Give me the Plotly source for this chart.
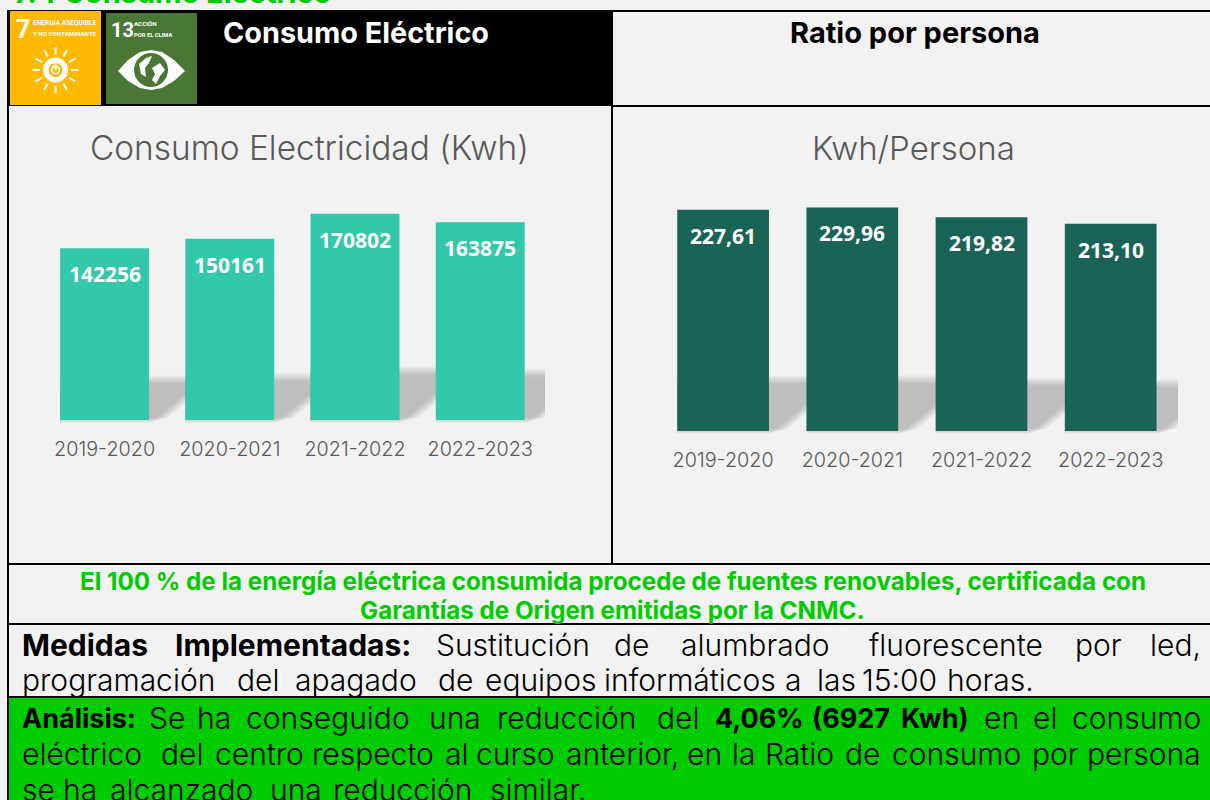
import math
import plotly.graph_objects as go

# ---------- data ----------
courses = ["2019-2020", "2020-2021", "2021-2022", "2022-2023"]
consumo_kwh = [142256, 150161, 170802, 163875]
ratio_kwh_persona = [227.61, 229.96, 219.82, 213.10]
ratio_labels = ["227,61", "229,96", "219,82", "213,10"]

W, H = 1210, 800
FONT = "Inter"
BG = "#F2F2F2"
GREEN = "#00CC00"
GREY = "#595959"
TEAL = "#33C8AA"
DARK = "#1A6357"

def X(p): return p / W
def Y(p): return 1 - p / H

shapes, annots = [], []

def rect(x0, y0, x1, y1, color):
    shapes.append(dict(type="rect", xref="paper", yref="paper", x0=X(x0), x1=X(x1), y0=Y(y1), y1=Y(y0),
                       fillcolor=color, line=dict(width=0), layer="below"))

def path(points, color, opacity=1.0):
    d = "M " + " L ".join(f"{X(a):.5f},{Y(b):.5f}" for a, b in points) + " Z"
    shapes.append(dict(type="path", xref="paper", yref="paper", path=d, fillcolor=color, opacity=opacity,
                       line=dict(width=0), layer="below"))

def seg(x0, y0, x1, y1, color, width):
    shapes.append(dict(type="line", xref="paper", yref="paper", x0=X(x0), x1=X(x1), y0=Y(y0), y1=Y(y1),
                       line=dict(color=color, width=width), layer="below"))

def circle(cx, cy, r, color):
    shapes.append(dict(type="circle", xref="paper", yref="paper", x0=X(cx - r), x1=X(cx + r), y0=Y(cy + r), y1=Y(cy - r),
                       fillcolor=color, line=dict(width=0), layer="below"))

def text(x, y, s, size, color, bold=False, anchor="left", font=FONT, weight=None, vanchor="middle"):
    annots.append(dict(xref="paper", yref="paper", x=X(x), y=Y(y), text=s, showarrow=False, xanchor=anchor,
                       yanchor=vanchor, borderpad=0, borderwidth=0, align=anchor if anchor != "middle" else "center",
                       font=dict(family=font, size=size, color=color, weight=weight or (700 if bold else 400))))

# ---------- table ----------
rect(8, 697, 1210, 800, GREEN)
rect(8, 10, 613, 106, "#000000")
seg(8, 10, 8, 800, "#000000", 2)
seg(613, 11, 1210, 11, "#000000", 2)
seg(612, 106, 1210, 106, "#000000", 2)
seg(612, 106, 612, 564, "#000000", 2)
seg(8, 564, 1210, 564, "#000000", 2)
seg(8, 624, 1210, 624, "#000000", 2)
seg(8, 697, 1210, 697, "#000000", 2)

# ---------- SDG icons ----------
rect(10, 11, 101, 105, "#FFB900")
rect(106, 13, 197, 104, "#4A7735")
for i in range(12):
    a = math.radians(i * 30)
    seg(55.5 + 15.5 * math.cos(a), 70 + 15.5 * math.sin(a), 55.5 + 23 * math.cos(a), 70 + 23 * math.sin(a), "white", 2)
circle(55.5, 70, 12.5, "white")
circle(55.5, 70, 7, "#FFB900")
circle(55.5, 70, 4.6, "white")
circle(55.5, 70, 3, "#FFB900")
seg(55.5, 63, 55.5, 70, "white", 2)
path([(118, 71), (128, 60), (140, 52), (151, 50), (162, 52), (174, 60), (185, 71),
      (174, 81), (162, 88), (151, 90), (140, 88), (128, 81)], "white")
circle(151, 70, 17, "#4A7735")
path([(139, 64), (146, 58), (152, 56), (149, 63), (145, 68), (146, 77), (141, 74)], "white")
path([(152, 68), (160, 63), (165, 70), (160, 76), (156, 84), (152, 80), (155, 74)], "white")

NARROW = "Roboto"
text(16, 29, "7", 25, "white", True, font=NARROW)
text(33, 23, "ENERGIA ASEQUIBLE", 6.6, "white", True, font=NARROW)
text(33, 34, "Y NO CONTAMINANTE", 6.2, "white", True, font=NARROW)
text(111, 30, "13", 20, "white", True, font=NARROW)
text(134, 24, "ACCIÓN", 6.2, "white", True, font=NARROW)
text(134, 35, "POR EL CLIMA", 5.8, "white", True, font=NARROW)

# ---------- shadows ----------
def shadow(x0, x1, base, top, clip):
    layers = 12
    for k in range(layers):
        t = top + k * 0.8
        b = base + 3 - k * 0.5
        xe = x1 + k * 1.8
        run = b - t
        pts = [(x0, b), (xe, b)]
        if xe + run * 1.2 > clip:
            pts += [(clip, b - (clip - xe) / 1.2), (clip, t)]
        else:
            pts += [(xe + run * 1.2, t)]
        pts.append((x0, t))
        path(pts, "#808080", 0.05)

def shadows(values, scale, base, x0s, width, frac, clips):
    for v, x0, c in zip(values, x0s, clips):
        shadow(x0, x0 + width, base, base - v * scale * frac, c)

L_BASE, L_SCALE = 420, 0.001207
R_BASE, R_SCALE = 431, 0.972
shadows(consumo_kwh, L_SCALE, L_BASE, [60, 185, 310, 436], 89, 0.26, [310, 436, 545, 545])
shadows(ratio_kwh_persona, R_SCALE, R_BASE, [677, 807, 936, 1065], 91.5, 0.25, [936, 1065, 1178, 1178])

# ---------- charts ----------
fig = go.Figure()
fig.add_trace(go.Bar(x=courses, y=consumo_kwh, marker=dict(color=TEAL, line=dict(width=0)), xaxis="x", yaxis="y", showlegend=False))
fig.add_trace(go.Bar(x=courses, y=ratio_kwh_persona, marker=dict(color=DARK, line=dict(width=0)), xaxis="x2", yaxis="y2", showlegend=False))

L_MAX, R_MAX = 180000, 240
for c, v in zip(courses, consumo_kwh):
    annots.append(dict(xref="x", yref="y", x=c, y=v, yshift=-26, text=str(v), showarrow=False, yanchor="middle",
                       font=dict(family="Open Sans", size=21, color="white", weight=700)))
for c, v, l in zip(courses, ratio_kwh_persona, ratio_labels):
    annots.append(dict(xref="x2", yref="y2", x=c, y=v, yshift=-26, text=l, showarrow=False, yanchor="middle",
                       font=dict(family="Open Sans", size=21, color="white", weight=700)))

axis_x = dict(type="category", showgrid=False, zeroline=False, showline=False, range=[-0.5, 3.5], ticks="outside",
              ticklen=11, tickcolor="rgba(0,0,0,0)", tickfont=dict(family=FONT, size=19.8, color=GREY, weight=300), fixedrange=True)
axis_y = dict(visible=False, fixedrange=True)

# ---------- titles ----------
text(223, 32, "Consumo Eléctrico", 28.8, "white", True)
text(914.5, 32, "Ratio por persona", 29, "#000000", True, anchor="center")
text(309, 148, "Consumo Electricidad (Kwh)", 33.4, GREY, anchor="center", weight=300)
text(914, 148, "Kwh/Persona", 33, GREY, anchor="center", weight=300)
text(14, 10, "7.4 Consumo Eléctrico", 29, GREEN, True, vanchor="bottom")

text(612.5, 581, "El 100 % de la energía eléctrica consumida procede de fuentes renovables, certificada con", 24.2, GREEN, True, anchor="center")
text(612, 610, "Garantías de Origen emitidas por la CNMC.", 24.2, GREEN, True, anchor="center")

# ---------- justified paragraphs (word by word) ----------
TXT = 30
line1_words = ["Medidas", "Implementadas:", "Sustitución", "de", "alumbrado", "fluorescente", "por", "led,"]
line1_left = [22, 175, 436, 614, 681, 869, 1075, 1150]
line1_bold = [1, 1, 0, 0, 0, 0, 0, 0]
line2_words = ["programación", "del", "apagado", "de", "equipos", "informáticos", "a", "las", "15:00", "horas."]
line2_left = [22, 237, 295, 438, 485, 604, 785, 817, 862, 947]
line3_words = ["Análisis:", "Se", "ha", "conseguido", "una", "reducción", "del", "4,06%", "(6927", "Kwh)", "en", "el", "consumo"]
line3_left = [22, 149, 197, 246, 429, 497, 657, 715, 812, 901, 984, 1033, 1072]
line3_bold = [1, 0, 0, 0, 0, 0, 0, 1, 1, 1, 0, 0, 0]
line4_words = ["eléctrico", "del", "centro", "respecto", "al", "curso", "anterior,", "en", "la", "Ratio", "de", "consumo", "por", "persona"]
line4_left = [22, 161, 215, 312, 445, 476, 566, 687, 732, 765, 845, 892, 1032, 1087]
line5_words = ["se", "ha", "alcanzado", "una", "reducción", "similar."]
line5_left = [22, 63, 110, 270, 333, 490]

for y, bold_size, words, lefts, bolds in [(645, 30, line1_words, line1_left, line1_bold),
                                          (680, 30, line2_words, line2_left, [0] * 10),
                                          (718, 27, line3_words, line3_left, line3_bold),
                                          (754, 30, line4_words, line4_left, [0] * 14),
                                          (790, 30, line5_words, line5_left, [0] * 6)]:
    for s, x, b in zip(words, lefts, bolds):
        text(x, y, s, bold_size if b else TXT, "#000000", bool(b), weight=700 if b else 300)

fig.update_layout(
    width=W, height=H, margin=dict(l=0, r=0, t=0, b=0), autosize=False,
    paper_bgcolor=BG, plot_bgcolor="rgba(0,0,0,0)", bargap=0.29, showlegend=False,
    xaxis=dict(axis_x, domain=[X(42), X(542.8)], anchor="y"),
    yaxis=dict(axis_y, domain=[Y(L_BASE), Y(L_BASE - L_MAX * L_SCALE)], range=[0, L_MAX], anchor="x"),
    xaxis2=dict(axis_x, domain=[X(658.5), X(1175.3)], anchor="y2"),
    yaxis2=dict(axis_y, domain=[Y(R_BASE), Y(R_BASE - R_MAX * R_SCALE)], range=[0, R_MAX], anchor="x2"),
    shapes=shapes, annotations=annots,
)
fig.write_html("out.html", config=dict(displayModeBar=False),
               post_script="document.body.style.margin='0';document.documentElement.style.overflow='hidden';")
